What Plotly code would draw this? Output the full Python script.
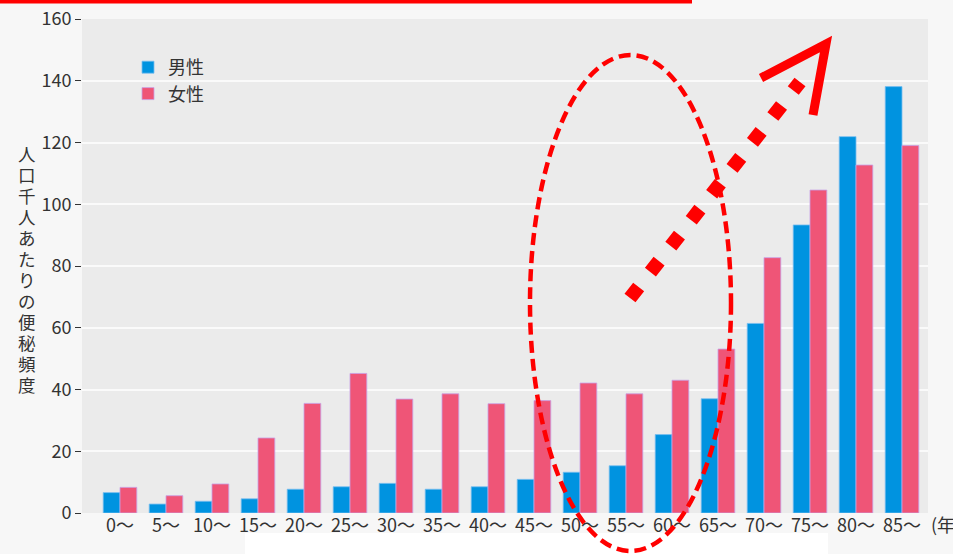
import plotly.graph_objects as go

categories = ["0～", "5～", "10～", "15～", "20～", "25～", "30～", "35～", "40～",
              "45～", "50～", "55～", "60～", "65～", "70～", "75～", "80～", "85～"]
male = [6.6, 2.9, 3.8, 4.6, 7.7, 8.5, 9.6, 7.7, 8.5, 10.9, 13.2, 15.3, 25.4, 37.0, 61.4, 93.3, 121.9, 138.1]
female = [8.3, 5.6, 9.4, 24.3, 35.5, 45.2, 36.9, 38.6, 35.4, 36.4, 42.1, 38.6, 43.0, 53.1, 82.7, 104.6, 112.7, 119.0]
y_ticks = [0, 20, 40, 60, 80, 100, 120, 140, 160]
y_title = "人口千人あたりの便秘頻度"

W, H = 953, 554
L, R, T, B = 82, 25, 19, 41
pw, ph = W - L - R, H - T - B

def px(x):
    return (x - L) / pw

def py(y):
    return (H - B - y) / ph

FONT = "Noto Sans CJK JP"

fig = go.Figure()
fig.add_trace(go.Bar(x=categories, y=male, name="男性",
                     marker=dict(color="#0093e0", line=dict(color="rgba(120,190,240,0.8)", width=1))))
fig.add_trace(go.Bar(x=categories, y=female, name="女性",
                     marker=dict(color="#ef5577", line=dict(color="rgba(200,160,230,0.8)", width=1))))

shapes = []
# top red bar
shapes.append(dict(type="rect", xref="paper", yref="paper", x0=px(0), x1=px(692), y0=py(-2), y1=py(3.5),
                   fillcolor="#ff0000", line=dict(width=0), layer="above"))
# white patch at bottom
shapes.append(dict(type="rect", xref="paper", yref="paper", x0=px(245), x1=px(828), y0=py(533), y1=py(560),
                   fillcolor="#ffffff", line=dict(width=0), layer="above"))
# dashed ellipse
shapes.append(dict(type="circle", xref="paper", yref="paper", x0=px(530), x1=px(731), y0=py(55), y1=py(551),
                   line=dict(color="#ff0000", width=4.5, dash="12px,6px"), layer="above"))
# dotted arrow line
shapes.append(dict(type="line", xref="paper", yref="paper", x0=px(630), y0=py(298), x1=px(800), y1=py(82),
                   line=dict(color="#ff0000", width=14, dash="14px,19px"), layer="above"))
# arrow head
shapes.append(dict(type="path", xref="paper", yref="paper",
                   path=f"M {px(761)},{py(78)} L {px(826)},{py(44)} L {px(813)},{py(115)}",
                   line=dict(color="#ff0000", width=9), layer="above"))

annotations = []
for i, ch in enumerate(y_title):
    annotations.append(dict(text=ch, xref="paper", yref="paper",
                            x=px(27), y=py(153.5 + 21 * i), xanchor="center", yanchor="middle",
                            showarrow=False, font=dict(size=17.5, color="#333333", family=FONT)))
annotations.append(dict(text="(年齢)", xref="paper", yref="paper", x=px(929), y=py(524),
                        xanchor="left", yanchor="middle", showarrow=False,
                        font=dict(size=18, color="#333333", family=FONT)))

fig.update_layout(
    width=W, height=H,
    margin=dict(l=L, r=R, t=T, b=B, pad=0, autoexpand=False),
    paper_bgcolor="#f7f7f7",
    plot_bgcolor="#ebebeb",
    font=dict(family=FONT, size=18, color="#333333"),
    barmode="group", bargap=0.27, bargroupgap=0,
    showlegend=True,
    legend=dict(x=px(128), y=py(49), xanchor="left", yanchor="top",
                bgcolor="rgba(0,0,0,0)", font=dict(size=18, color="#333333"),
                itemwidth=30, tracegroupgap=0),
    shapes=shapes,
    annotations=annotations,
)
fig.update_xaxes(type="category", range=[-0.826, 17.565], showgrid=False, ticks="",
                 tickfont=dict(size=18), zeroline=False, showline=False, automargin=False)
fig.update_yaxes(range=[0, 160], tickvals=y_ticks, ticks="outside", ticklen=6, tickcolor="#333333",
                 gridcolor="#fafafa", gridwidth=2, zeroline=False, showline=False,
                 tickfont=dict(size=18), automargin=False)

fig.write_html("out.html", config={"displayModeBar": False},
               post_script="document.body.style.margin='0';document.body.style.overflow='hidden';"
                           "document.body.style.background='#f7f7f7';")
